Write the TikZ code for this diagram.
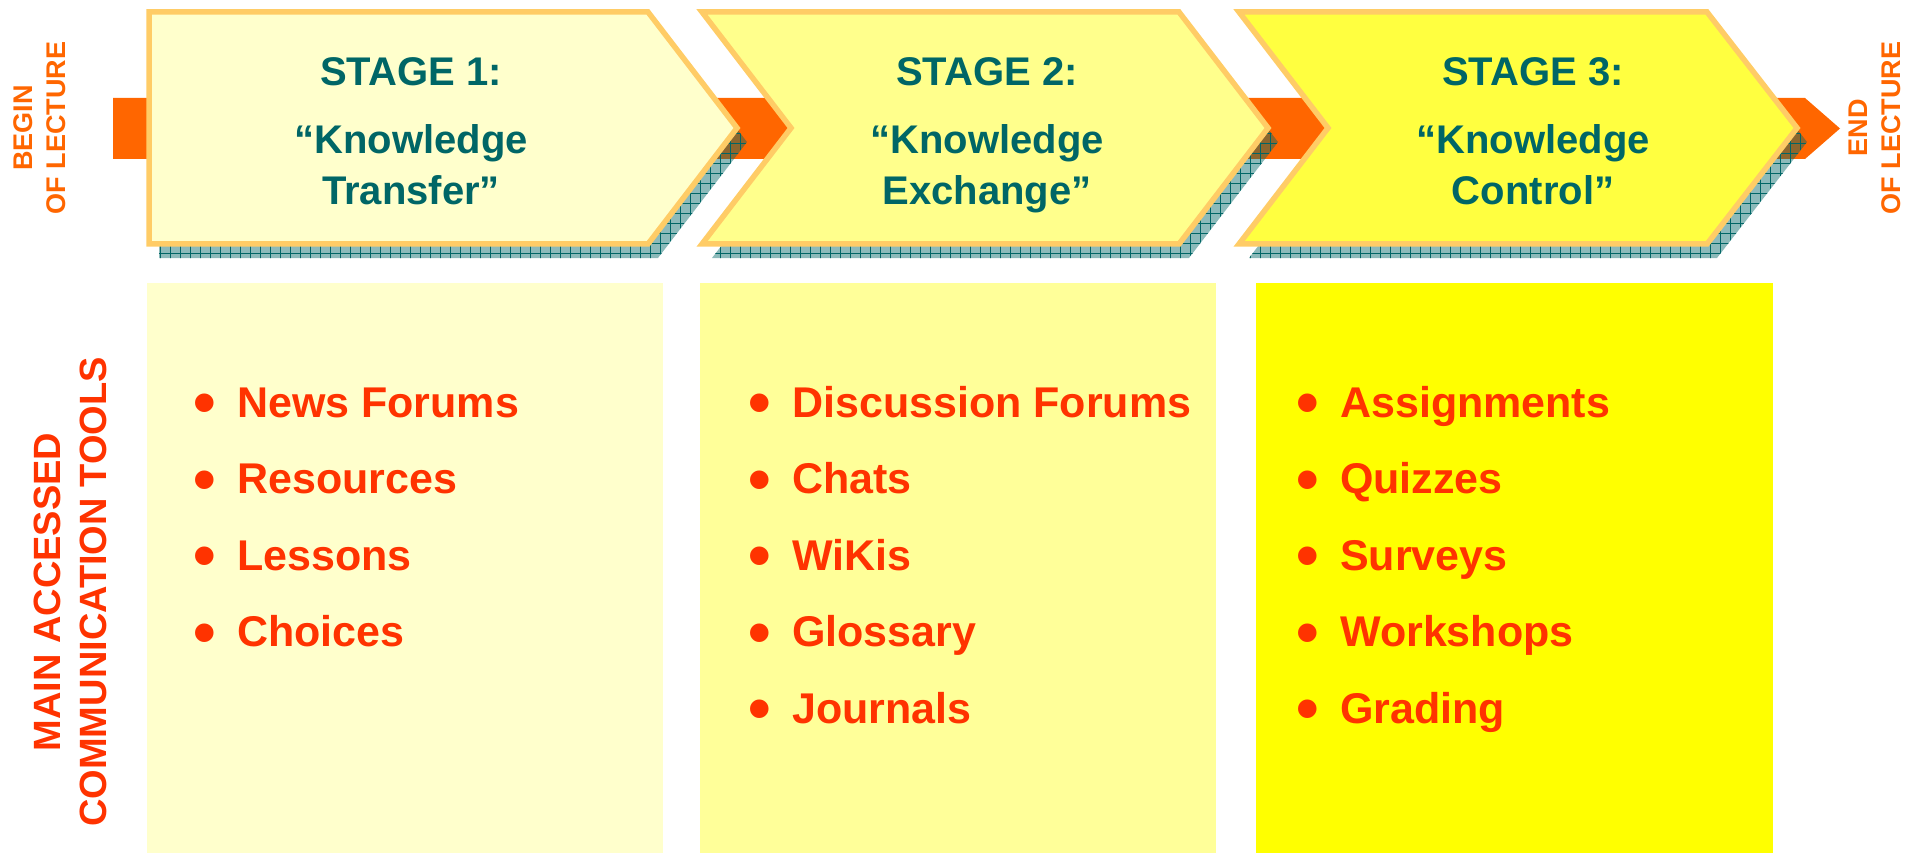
\documentclass[tikz,border=0pt]{standalone}
\usepackage{fontspec}
\setmainfont{Liberation Sans}
\usetikzlibrary{patterns.meta,shadows}
\definecolor{stageteal}{HTML}{006666}
\definecolor{toolred}{HTML}{FF3300}
\definecolor{lectureorange}{HTML}{FF6600}
\definecolor{rim}{HTML}{FFCC66}
\definecolor{shade}{HTML}{006666}
\definecolor{paleA}{HTML}{FFFFCC}
\definecolor{paleB}{HTML}{FFFF8C}
\definecolor{paleC}{HTML}{FFFF40}
\definecolor{boxB}{HTML}{FFFF99}
\definecolor{boxC}{HTML}{FFFF00}
\begin{document}
\begin{tikzpicture}[x=1pt, y=-1pt,
    stagebox/.style={draw=rim, line width=5.5pt, line join=miter, miter limit=10,
      general shadow={shadow xshift=10pt, shadow yshift=-14pt, fill=shade, fill opacity=.45},
      general shadow={shadow xshift=10pt, shadow yshift=-14pt,
        pattern={Hatch[distance=10pt, angle=0, line width=.6pt]}, pattern color=shade, fill opacity=.7}},
    stagetitle/.style={text=stageteal, font=\fontsize{40}{51}\selectfont\bfseries, align=center, inner sep=0pt},
    tool/.style={text=toolred, font=\fontsize{43}{52}\selectfont\bfseries, anchor=base west, inner sep=0pt,
      execute at begin node={\llap{\raisebox{-7.5pt}{\scalebox{1.5}{•}}\hspace{21pt}}}},
    sidelabel/.style={text=toolred, font=\fontsize{38}{46}\selectfont\bfseries, align=center, rotate=90, inner sep=0pt},
    lecture/.style={text=lectureorange, font=\fontsize{27}{33}\selectfont\bfseries, align=center, rotate=90, inner sep=0pt}]
  \useasboundingbox (0,0) rectangle (1917,853);
  % lecture arrow behind the stages
  \fill[lectureorange] (113,98) -- (1805,98) -- (1840,128.5) -- (1805,159) -- (113,159) -- cycle;
  % stages
  \draw[stagebox, fill=paleA] (149,12) -- (648,12) -- (737,128) -- (648,244) -- (149,244) -- cycle;
  \draw[stagebox, fill=paleB] (702,12) -- (1179,12) -- (1268,128) -- (1179,244) -- (702,244) -- (791,128) -- cycle;
  \draw[stagebox, fill=paleC] (1239,12) -- (1707,12) -- (1797,128) -- (1707,244) -- (1239,244) -- (1328,128) -- cycle;
  \node[stagetitle, anchor=base] (stage1) at (411,86) {STAGE 1:};
  \node[stagetitle, anchor=north] (transfer) at (411,124) {“Knowledge\\Transfer”};
  \node[stagetitle, anchor=base] (stage2) at (987,86) {STAGE 2:};
  \node[stagetitle, anchor=north] (exchange) at (987,124) {“Knowledge\\Exchange”};
  \node[stagetitle, anchor=base] (stage3) at (1533,86) {STAGE 3:};
  \node[stagetitle, anchor=north] (control) at (1533,124) {“Knowledge\\Control”};
  \node[lecture] (begin) at (40,128) {BEGIN\\OF LECTURE};
  \node[lecture] (end) at (1875,128) {END\\OF LECTURE};
  % tool boxes
  \fill[paleA] (147,283) rectangle (663,853);
  \fill[boxB] (700,283) rectangle (1216,853);
  \fill[boxC] (1256,283) rectangle (1773,853);
  \node[sidelabel] (tools) at (70,592) {MAIN ACCESSED\\COMMUNICATION TOOLS};
  \node[tool] (newsforums) at (237,417) {News Forums};
  \node[tool] (resources) at (237,493.5) {Resources};
  \node[tool] (lessons) at (237,570) {Lessons};
  \node[tool] (choices) at (237,646.5) {Choices};
  \node[tool] (discussion) at (792,417) {Discussion Forums};
  \node[tool] (chats) at (792,493.5) {Chats};
  \node[tool] (wikis) at (792,570) {WiKis};
  \node[tool] (glossary) at (792,646.5) {Glossary};
  \node[tool] (journals) at (792,723) {Journals};
  \node[tool] (assignments) at (1340,417) {Assignments};
  \node[tool] (quizzes) at (1340,493.5) {Quizzes};
  \node[tool] (surveys) at (1340,570) {Surveys};
  \node[tool] (workshops) at (1340,646.5) {Workshops};
  \node[tool] (grading) at (1340,723) {Grading};
\end{tikzpicture}
\end{document}
